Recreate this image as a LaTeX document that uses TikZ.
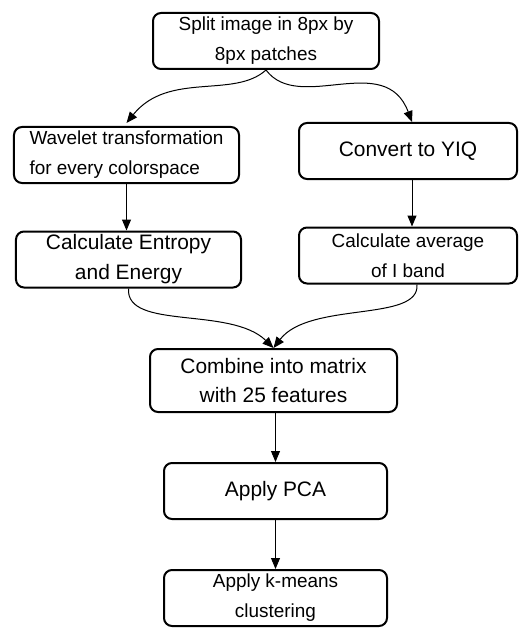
\documentclass[tikz,border=0pt]{standalone}
\usepackage{fontspec}
\setmainfont{Liberation Sans}
\usetikzlibrary{arrows.meta}

\begin{document}
\begin{tikzpicture}[x=1bp,y=-1bp,main node/.style={draw,line width=2bp,rounded corners=8bp,inner sep=0pt,minimum height=56bp,align=center,font=\fontsize{21}{30}\selectfont},
  small text/.style={font=\fontsize{19}{30}\selectfont},
  flow/.style={line width=1bp,-{Triangle[length=11bp,width=9bp]}}]
            \useasboundingbox (0,0) rectangle (519,628);
            \node[main node,small text,minimum width=226bp] (1) at (266,41) {Split image in 8px by\\8px patches};
            \node[main node,small text,minimum width=225bp,align=left] (2) at (126.5,155) {Wavelet transformation\\for every colorspace};
            \node[main node,minimum width=218bp] (3) at (408,151) {Convert to YIQ};
            \node[main node,minimum width=225bp] (4) at (128.5,259.5) {Calculate Entropy\\and Energy};
            \node[main node,small text,minimum width=218bp] (5) at (408,255.5) {Calculate average\\of I band};
            \node[main node,minimum width=247bp,minimum height=63bp] (6) at (273.5,380.5) {Combine into matrix\\with 25 features};
            \node[main node,minimum width=223bp] (7) at (275.5,491) {Apply PCA};
            \node[main node,small text,minimum width=223bp] (8) at (275.5,598) {Apply k-means\\clustering};

          \draw[flow] (1.south) .. controls +(-32,29) and +(42,-52) .. ([yshift=3bp]2.north);
          \draw[flow] (1.south) .. controls +(33,44) and +(-27,-72) .. ([xshift=4bp]3.north);
          \draw[flow] (2.south) -- (2.south |- 4.north);
          \draw[flow] ([xshift=4bp]3.south) -- ([xshift=4bp]5.north);
          \draw[flow] (4.south) .. controls +(-3,42) and +(-43,-42) .. (6.north);
          \draw[flow] ([xshift=9bp]5.south) .. controls +(3,38) and +(36,-47) .. (6.north);
          \draw[flow] (7.north |- 6.south) -- (7.north);
          \draw[flow] (7) -- (8);
        \end{tikzpicture}
\end{document}
